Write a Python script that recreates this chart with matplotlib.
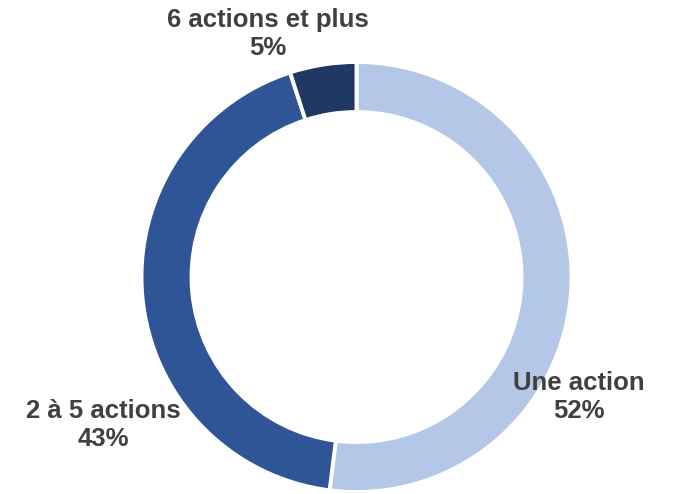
import matplotlib.pyplot as plt

# ---------- Données ----------
labels = ["Une action", "2 à 5 actions", "6 actions et plus"]
values = [52, 43, 5]
colors = ["#B4C7E7", "#2F5597", "#1F3864"]
label_pos = [(579, 397), (103, 425), (268, 34)]   # centre des étiquettes (px, y vers le bas)

W, H = 679, 494
fig = plt.figure(figsize=(W / 100, H / 100), dpi=100)
ax = fig.add_axes([0, 0, 1, 1])

cx, cy, R = 356.5, H - 277, 215
ax.pie(values, colors=colors, startangle=90, counterclock=False,
       center=(cx, cy), radius=R, frame=True,
       wedgeprops=dict(width=50, edgecolor="white", linewidth=2.8))
ax.set_xlim(0, W)
ax.set_ylim(0, H)
ax.set_aspect("equal")
ax.axis("off")

for lab, v, (x, y) in zip(labels, values, label_pos):
    ax.text(x, H - y, f"{lab}\n{v}%", ha="center", va="center",
            fontsize=18.5, fontweight="bold", color="#404040",
            family="Liberation Sans", linespacing=1.22)

fig.savefig("out.png", dpi=100)
